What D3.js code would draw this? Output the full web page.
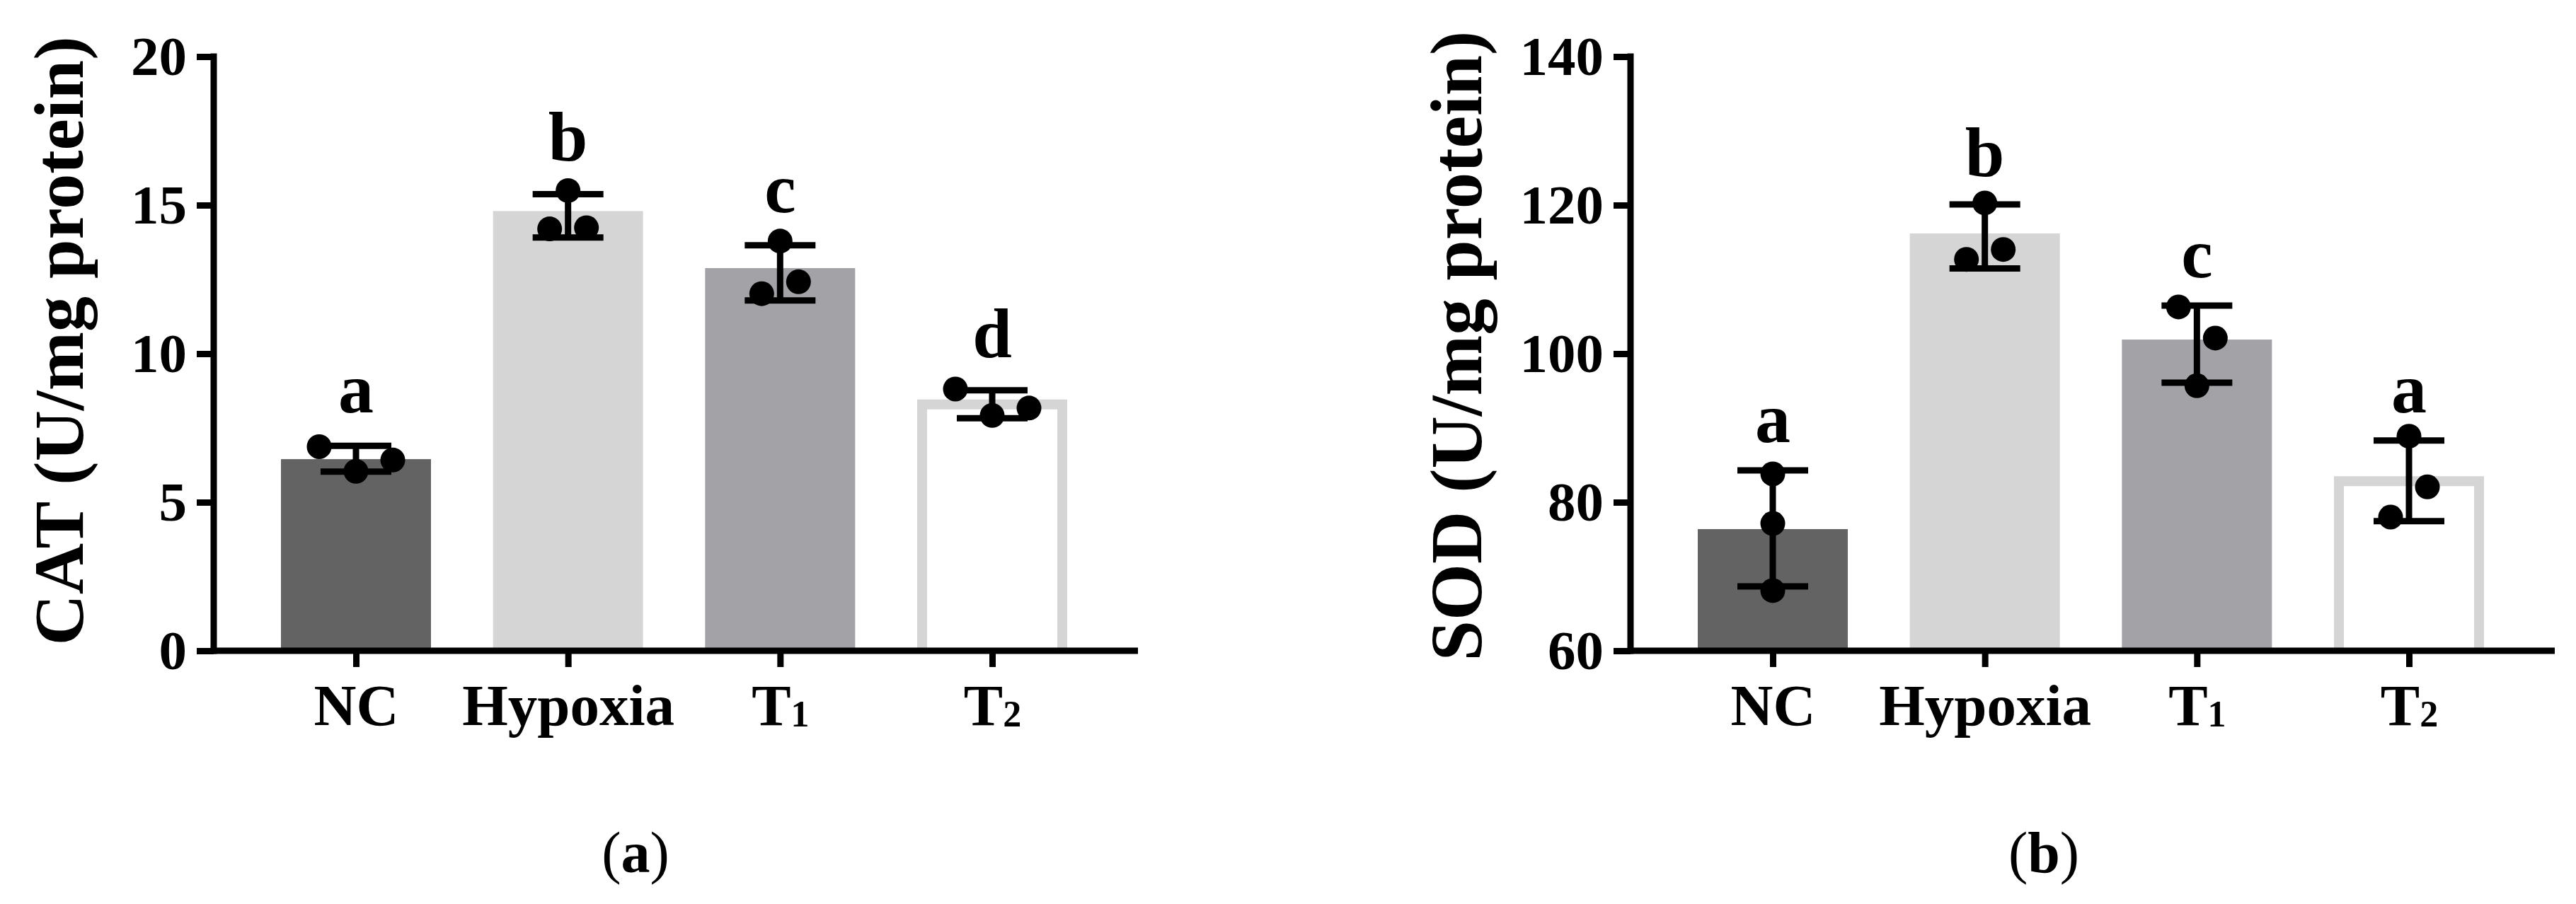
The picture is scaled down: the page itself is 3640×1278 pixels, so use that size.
<!DOCTYPE html>
<html>
<head>
<meta charset="utf-8">
<script src="https://cdn.jsdelivr.net/npm/d3@7"></script>
<style>
  html, body { margin: 0; padding: 0; background: #fff; }
  svg { display: block; }
  text { font-family: "Liberation Serif", "Times New Roman", serif; fill: #000; }
</style>
</head>
<body>
<svg id="chart" width="3640" height="1278"></svg>
<script>
// ---------------- data ----------------
const categories = ["NC", "Hypoxia", "T1", "T2"];

// Panel (a): CAT (U/mg protein)
const catTicks = [0, 5, 10, 15, 20];
const catMean = [6.45, 14.80, 12.88, 8.29];
const catSdHigh = [6.90, 15.37, 13.65, 8.77];
const catSdLow = [6.03, 13.91, 11.79, 7.83];
const catPoints = [[6.87, 6.04, 6.42], [15.49, 14.20, 14.24], [13.79, 12.42, 12.02], [8.81, 7.92, 8.17]];
const catJitter = [[-2, 0, 2], [0, -1, 1], [0, 1, -1], [-2, 0, 2]];
const catLetters = ["a", "b", "c", "d"];

// Panel (b): SOD (U/mg protein)
const sodTicks = [60, 80, 100, 120, 140];
const sodMean = [76.38, 116.19, 101.90, 82.83];
const sodSdHigh = [84.29, 120.10, 106.48, 88.31];
const sodSdLow = [68.67, 111.48, 96.10, 77.46];
const sodPoints = [[83.81, 77.14, 68.10], [120.29, 114.03, 112.70], [106.29, 102.10, 95.69], [88.89, 82.07, 78.00]];
const sodJitter = [[0, 0, 0], [0, 1, -1], [-1, 1, 0], [0, 1, -1]];
const sodLetters = ["a", "b", "c", "a"];

// ---------------- drawing ----------------
const svg = d3.select("#chart");
svg.append("rect").attr("width", 3640).attr("height", 1278).attr("fill", "#fff");

const barFill = ["#636363", "#d5d5d5", "#a3a2a7", "#ffffff"];
const outlineColor = "#d5d5d5";
const BAR_W = 212, CAP_HALF = 50, DOT_R = 17.5, JIT = 26, LINE_W = 9;
const Y0 = 920, Y1 = 80;

function labelTspans(sel, txt, subSize) {
  const m = txt.match(/^(\D+)(\d*)$/);
  sel.text(null);
  sel.append("tspan").text(m[1]);
  if (m[2]) sel.append("tspan").attr("font-size", subSize).attr("dy", 2).text(m[2]);
}

function drawPanel(o) {
  const g = svg.append("g");
  const axisX = 302 + o.off;
  const y = d3.scaleLinear().domain(o.domain).range([Y0, Y1]);
  const x = d3.scalePoint().domain(categories).range([503 + o.off, 1402 + o.off]);

  // bars
  categories.forEach((c, i) => {
    const cx = x(c), top = y(o.mean[i]);
    if (i < 3) {
      g.append("rect")
        .attr("x", cx - BAR_W / 2).attr("y", top)
        .attr("width", BAR_W).attr("height", Y0 - top)
        .attr("fill", barFill[i]);
    } else {
      const l = cx - BAR_W / 2 + 7, r = cx + BAR_W / 2 - 7;
      g.append("path")
        .attr("d", `M${l},${Y0}V${top}H${r}V${Y0}`)
        .attr("fill", barFill[i]).attr("stroke", outlineColor)
        .attr("stroke-width", 14).attr("stroke-linejoin", "miter");
    }
  });

  // y axis
  const ya = g.append("g").attr("transform", `translate(${axisX},0)`)
    .call(d3.axisLeft(y).tickValues(o.ticks).tickSize(24).tickPadding(14).tickSizeOuter(0));
  ya.select(".domain").remove();
  ya.selectAll(".tick line").attr("stroke", "#000").attr("stroke-width", LINE_W);
  ya.selectAll(".tick text").attr("font-size", 79).attr("font-weight", "bold")
    .attr("font-family", "Liberation Serif, Times New Roman, serif").attr("fill", "#000");

  // x axis
  const xa = g.append("g").attr("transform", `translate(0,${Y0})`)
    .call(d3.axisBottom(x).tickSize(23).tickSizeOuter(0));
  xa.select(".domain").remove();
  xa.selectAll(".tick line").attr("stroke", "#000").attr("stroke-width", LINE_W);
  xa.selectAll(".tick text")
    .attr("y", 105).attr("dy", 0)
    .attr("font-size", 83).attr("font-weight", "bold")
    .attr("font-family", "Liberation Serif, Times New Roman, serif").attr("fill", "#000")
    .each(function (d) { labelTspans(d3.select(this), d, 52); });

  // axis lines
  g.append("line").attr("x1", axisX - 4.5).attr("x2", 1608 + o.off)
    .attr("y1", Y0).attr("y2", Y0).attr("stroke", "#000").attr("stroke-width", LINE_W);
  g.append("line").attr("x1", axisX).attr("x2", axisX)
    .attr("y1", Y1 - 4.5).attr("y2", Y0 + 4.5).attr("stroke", "#000").attr("stroke-width", LINE_W);

  // error bars
  categories.forEach((c, i) => {
    const cx = x(c), yh = y(o.hi[i]), yl = y(o.lo[i]);
    const eg = g.append("g").attr("stroke", "#000").attr("stroke-width", LINE_W);
    eg.append("line").attr("x1", cx).attr("x2", cx).attr("y1", yh).attr("y2", yl);
    eg.append("line").attr("x1", cx - CAP_HALF).attr("x2", cx + CAP_HALF).attr("y1", yh).attr("y2", yh);
    eg.append("line").attr("x1", cx - CAP_HALF).attr("x2", cx + CAP_HALF).attr("y1", yl).attr("y2", yl);
  });

  // points
  categories.forEach((c, i) => {
    g.selectAll(null).data(o.pts[i]).enter().append("circle")
      .attr("cx", (d, j) => x(c) + o.jit[i][j] * JIT)
      .attr("cy", d => y(d))
      .attr("r", DOT_R).attr("fill", "#000");
  });

  // significance letters
  categories.forEach((c, i) => {
    g.append("text").attr("x", x(c)).attr("y", y(o.hi[i]) - o.gap)
      .attr("text-anchor", "middle").attr("font-size", 100).attr("font-weight", "bold")
      .text(o.letters[i]);
  });

  // y title
  g.append("text")
    .attr("transform", `translate(${o.titleX},${o.titleY}) rotate(-90)`)
    .attr("text-anchor", "middle").attr("font-size", o.titleSize).attr("font-weight", "bold")
    .text(o.title);

  // caption
  const cap = g.append("text").attr("x", o.capX).attr("y", 1233)
    .attr("text-anchor", "middle").attr("font-size", 82);
  cap.append("tspan").text("(");
  cap.append("tspan").attr("font-weight", "bold").text(o.caption);
  cap.append("tspan").text(")");
}

drawPanel({
  off: 0, domain: [0, 20], ticks: catTicks,
  mean: catMean, hi: catSdHigh, lo: catSdLow, pts: catPoints, jit: catJitter,
  letters: catLetters, gap: 47,
  title: "CAT (U/mg protein)", titleX: 117, titleY: 482, titleSize: 100,
  caption: "a", capX: 898
});
drawPanel({
  off: 2002, domain: [60, 140], ticks: sodTicks,
  mean: sodMean, hi: sodSdHigh, lo: sodSdLow, pts: sodPoints, jit: sodJitter,
  letters: sodLetters, gap: 40,
  title: "SOD (U/mg protein)", titleX: 2093, titleY: 489, titleSize: 103,
  caption: "b", capX: 2888
});
</script>
</body>
</html>
